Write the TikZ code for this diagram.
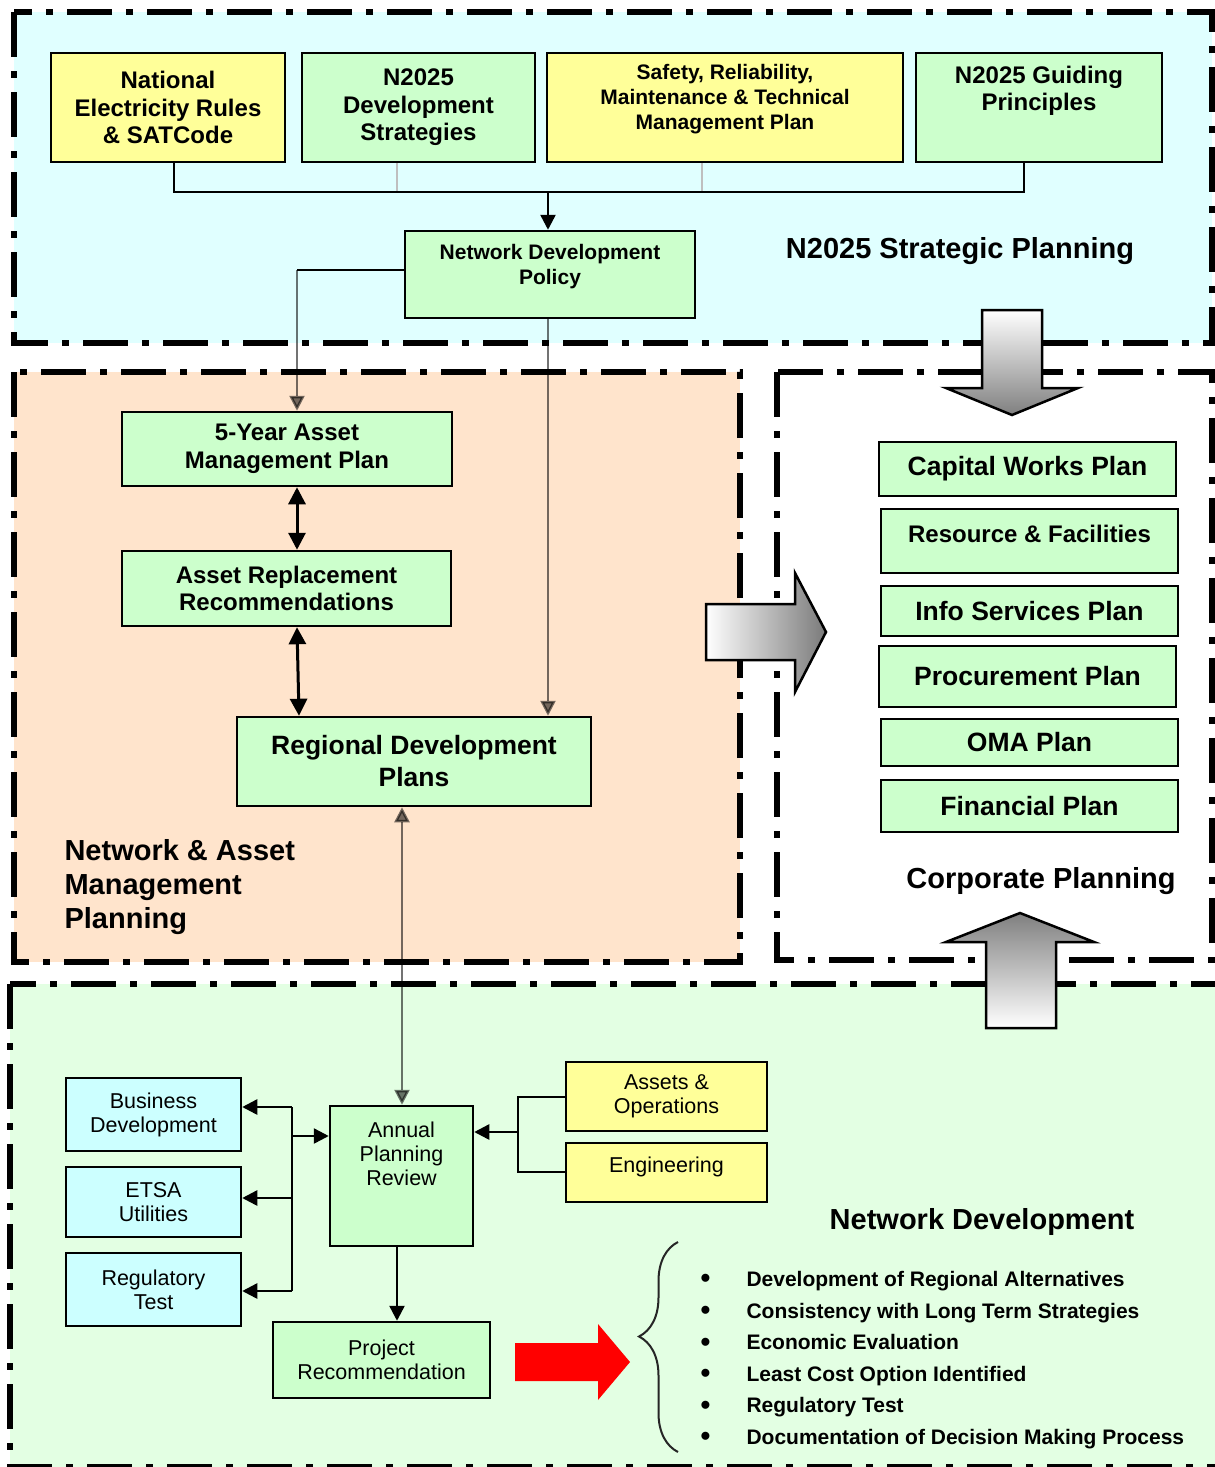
\documentclass[tikz,border=0pt]{standalone}
\usepackage{fontspec}
\setmainfont{Liberation Sans}
\usetikzlibrary{arrows.meta,decorations.pathreplacing,calc}

\definecolor{skyfill}{HTML}{E0FFFF}
\definecolor{peachfill}{HTML}{FFE4CC}
\definecolor{mintfill}{HTML}{E3FFE3}
\definecolor{boxgreen}{HTML}{CCFFCC}
\definecolor{boxyellow}{HTML}{FFFF99}
\definecolor{boxcyan}{HTML}{CCFFFF}

\newcommand\bulletmark{\makebox[46pt][l]{\fontsize{28}{28}\selectfont\raisebox{-1.5pt}{•}}}

\begin{document}
\begin{tikzpicture}[x=1pt,y=-1pt,
  region/.style={line width=6pt, dash pattern=on 45pt off 14pt on 7pt off 14pt},
  box/.style={draw=black, line width=2.5pt, inner sep=0pt, align=center},
  gbox/.style={box, fill=boxgreen},
  ybox/.style={box, fill=boxyellow},
  cbox/.style={box, fill=boxcyan},
  sz/.style 2 args={minimum width=#1pt, minimum height=#2pt},
  b21/.style={font=\bfseries\fontsize{21}{25}\selectfont, align=center},
  b24/.style={font=\bfseries\fontsize{24}{27.5}\selectfont, align=center},
  b26/.style={font=\bfseries\fontsize{26.5}{32}\selectfont, align=center},
  b29/.style={font=\bfseries\fontsize{29}{34}\selectfont},
  r21/.style={font=\fontsize{21.5}{24}\selectfont, align=center},
  arrowin/.style={-{Triangle[length=15pt,width=15pt]}},
  link/.style={line width=2.5pt},
  ghost/.style={line width=2.5pt, opacity=0.55},
  faint/.style={line width=2pt, draw=black!25},
  twoway/.style={line width=3pt, {Triangle[length=17pt,width=17pt]}-{Triangle[length=17pt,width=17pt]}},
  bigarrow/.style={draw=black, line width=2.5pt, line join=miter},
]
\useasboundingbox (0,0) rectangle (1215,1467);

% ---------- region frames ----------
\draw[region, fill=skyfill]   (14,12)   rectangle (1212,343);
\draw[region, fill=peachfill] (14,372)  rectangle (740,962);
\draw[region, fill=white]     (777,372) rectangle (1212,960);
\draw[region, fill=mintfill]  (10,984)  rectangle (1260,1467);

% ---------- big hollow arrows between the planning areas ----------
\path[bigarrow, top color=white, bottom color=black!50]
  (982,310) -- (1042,310) -- (1042,388) -- (1078,388) -- (1012,415)
  -- (946,388) -- (982,388) -- cycle;
\path[bigarrow, left color=white, right color=black!52]
  (706,604) -- (795,604) -- (795,573) -- (826,632) -- (795,692)
  -- (795,660) -- (706,660) -- cycle;
\path[bigarrow, top color=black!50, bottom color=white]
  (986,1028) -- (986,942) -- (946,942) -- (1020,913) -- (1094,942)
  -- (1056,942) -- (1056,1028) -- cycle;

% ---------- N2025 strategic planning ----------
\node[ybox, sz={234}{109}, b24] (ner) at (168,107.5) {National\\Electricity Rules\\\& SATCode};
\node[gbox, sz={233}{109}, b24] (nds) at (418.5,107.5) {N2025\\Development\\Strategies};
\node[ybox, sz={356}{109}] (srm) at (725,107.5) {};
\node[b21] (srm-t) at ([yshift=8pt]srm.center) {Safety, Reliability,\\Maintenance \& Technical\\Management Plan};
\node[gbox, sz={246}{109}] (gp) at (1039,107.5) {};
\node[b24] (gp-t) at ([yshift=16.5pt]gp.center) {N2025 Guiding\\Principles};
\node[gbox, sz={290}{87}] (ndp) at (550,274.5) {};
\node[b21] (ndp-t) at ([yshift=8pt]ndp.center) {Network Development\\Policy};
\node[b29] (t-strat) at (960,251) {N2025 Strategic Planning};

\coordinate (busL) at (174,192);
\coordinate (busR) at (1024,192);
\coordinate (busM) at (548,192);
\coordinate (dropA) at (397,192);
\coordinate (dropB) at (702,192);
\draw[faint] (dropA |- nds.south) -- (dropA);
\draw[faint] (dropB |- srm.south) -- (dropB);
\draw[link] (busL |- ner.south) -- (busL) -- (busR) -- (busR |- gp.south);
\draw[link, arrowin] (busM) -- (busM |- ndp.north);

% ---------- network & asset management planning ----------
\node[gbox, sz={330}{74}, b24] (fy) at (287,449) {5-Year Asset\\Management Plan};
\node[gbox, sz={329}{75}, b24] (ar) at (286.5,588.5) {Asset Replacement\\Recommendations};
\node[gbox, sz={354}{89}, b26] (rdp) at (414,761.5) {Regional Development\\Plans};
\node[b29, align=left, anchor=west] (t-nam) at (61,887) {Network \& Asset\\Management\\Planning};

\coordinate (k1) at (297,270);
\draw[link] (ndp.west |- k1) -- (k1);
\draw[ghost, arrowin] (k1) -- (k1 |- fy.north);
\coordinate (k2) at (548,318);
\draw[ghost, arrowin] (k2 |- ndp.south) -- (k2 |- rdp.north);
\coordinate (k3) at (297,500);
\coordinate (k4) at (299,700);
\draw[twoway] (k3 |- fy.south) -- (k3 |- ar.north);
\draw[twoway] (k3 |- ar.south) -- (k4 |- rdp.north);

% ---------- corporate planning ----------
\node[gbox, sz={297}{54}, b26] (cw) at (1027.5,469) {Capital Works Plan};
\node[gbox, sz={297}{64}] (rf) at (1029.5,541) {};
\node[b24] (rf-t) at ([yshift=7pt]rf.center) {Resource \& Facilities};
\node[gbox, sz={297}{50}, b26] (isp) at (1029.5,611) {Info Services Plan};
\node[gbox, sz={297}{61}, b26] (pp) at (1027.5,676.5) {Procurement Plan};
\node[gbox, sz={297}{47}, b26] (oma) at (1029.5,742.5) {OMA Plan};
\node[gbox, sz={297}{52}, b26] (fp) at (1029.5,806) {Financial Plan};
\node[b29] (t-corp) at (1041,881) {Corporate Planning};

% ---------- network development ----------
\node[cbox, sz={175}{73}, r21] (bd) at (153.5,1114.5) {Business\\Development};
\node[cbox, sz={175}{70}, r21] (etsa) at (153.5,1202) {ETSA\\Utilities};
\node[cbox, sz={175}{73}, r21] (rt) at (153.5,1289.5) {Regulatory\\Test};
\node[gbox, sz={143}{140}] (apr) at (401.5,1176) {};
\node[r21] (apr-t) at ([yshift=22.5pt]apr.center) {Annual\\Planning\\Review};
\node[ybox, sz={201}{69}, r21] (ao) at (666.5,1096.5) {Assets \&\\Operations};
\node[ybox, sz={201}{59}] (eng) at (666.5,1172.5) {};
\node[r21] (eng-t) at ([yshift=6pt]eng.center) {Engineering};
\node[gbox, sz={217}{76}, r21] (prj) at (381.5,1360) {Project\\Recommendation};
\node[b29] (t-nd) at (982,1222) {Network Development};

\coordinate (lb1) at (292,1107);
\coordinate (lb2) at (292,1198);
\coordinate (lb3) at (292,1291);
\coordinate (lbm) at (292,1136);
\draw[link] (lb1) -- (lb3);
\draw[link, arrowin] (lb1) -- (lb1 -| bd.east);
\draw[link, arrowin] (lb2) -- (lb2 -| etsa.east);
\draw[link, arrowin] (lb3) -- (lb3 -| rt.east);
\draw[link, arrowin] (lbm) -- (lbm -| apr.west);

\coordinate (rb1) at (518,1097);
\coordinate (rb2) at (518,1172);
\coordinate (rbm) at (518,1132);
\draw[link] (ao.west |- rb1) -- (rb1) -- (rb2) -- (eng.west |- rb2);
\draw[link, arrowin] (rbm) -- (rbm -| apr.east);

\coordinate (dn) at (397,1260);
\draw[link, arrowin] (dn |- apr.south) -- (dn |- prj.north);

\coordinate (k5) at (402,900);
\draw[ghost, {Triangle[length=15pt,width=15pt]}-{Triangle[length=15pt,width=15pt]}]
  (k5 |- rdp.south) -- (k5 |- apr.north);

% ---------- outcome arrow, brace and checklist ----------
\fill[red] (515,1343) -- (598,1343) -- (598,1324) -- (630,1362) -- (598,1400)
  -- (598,1381) -- (515,1381) -- cycle;
\coordinate (brB) at (678,1452);
\coordinate (brT) at (678,1242);
\draw[line width=2pt, black!85, decorate, decoration={brace, amplitude=39pt, aspect=0.55}]
  (brB) -- (brT);
\node[anchor=west, align=left, font=\bfseries\fontsize{21}{31.6}\selectfont] (steps) at (697,1360)
  {\bulletmark Development of Regional Alternatives\\
   \bulletmark Consistency with Long Term Strategies\\
   \bulletmark Economic Evaluation\\
   \bulletmark Least Cost Option Identified\\
   \bulletmark Regulatory Test\\
   \bulletmark Documentation of Decision Making Process};
\end{tikzpicture}
\end{document}
